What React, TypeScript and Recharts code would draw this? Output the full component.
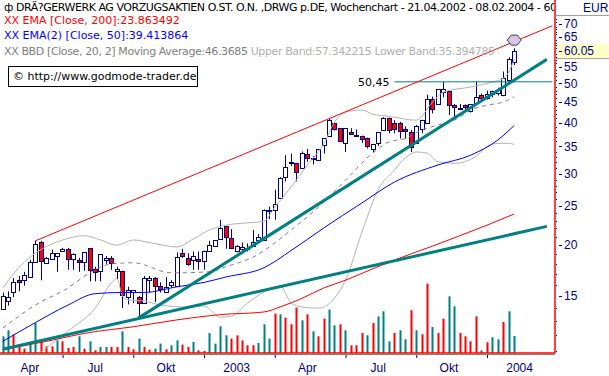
import {
  Bar,
  ComposedChart,
  Line,
  ReferenceDot,
  ReferenceLine,
  XAxis,
  YAxis,
} from "recharts";

// weekly candles, 21.04.2002 - 08.02.2004 (EUR)
const opens = [
  13.9, 14.6, 15.3, 16.4, 16.4, 16.7, 18.2, 20.4, 18.1, 18.5,
  18.8, 19.4, 19.6, 18.5, 18.4, 18.1, 19.7, 17.5, 17.3, 18.4,
  18.6, 17.3, 17.3, 14.9, 15.3, 14.9, 14.4, 16.4, 16.6, 15.9,
  15.4, 15.9, 15.9, 19.1, 18.6, 18.4, 18.5, 18.3, 19.3, 19.9,
  20.7, 22.3, 20.8, 19.3, 19.6, 19.6, 19.9, 20.6, 20.6, 24.3,
  24.4, 26.0, 29.4, 31.8, 31.9, 31.0, 33.6, 32.7, 32.4, 35.1,
  37.1, 40.0, 38.8, 35.7, 37.9, 37.2, 37.2, 36.8, 34.6, 35.8,
  38.4, 41.2, 40.0, 40.0, 38.6, 37.9, 35.7, 38.7, 40.0, 45.8,
  44.4, 47.6, 47.8, 44.2, 43.6, 44.2, 42.7, 44.9, 46.7, 46.2,
  47.0, 47.6, 46.7, 51.0, 56.5,
];
const highs = [
  15.3, 15.4, 16.6, 16.8, 17.2, 18.4, 20.5, 20.5, 18.7, 19.5,
  19.1, 19.7, 19.7, 19.1, 18.6, 19.2, 19.7, 17.7, 19.0, 18.8,
  18.8, 17.7, 17.3, 15.8, 15.5, 15.0, 16.8, 16.8, 16.7, 16.2,
  16.7, 16.4, 19.2, 19.6, 19.1, 19.3, 19.3, 19.4, 20.5, 20.6,
  23.1, 22.3, 21.9, 20.0, 20.3, 20.2, 21.8, 21.3, 24.5, 24.9,
  27.4, 29.4, 33.3, 33.6, 31.9, 34.0, 34.5, 33.1, 34.5, 36.6,
  40.9, 40.1, 38.8, 38.8, 38.8, 38.5, 37.2, 36.8, 35.5, 38.0,
  41.3, 41.2, 40.6, 40.2, 39.2, 38.4, 39.5, 40.7, 46.9, 46.4,
  48.4, 50.45, 48.0, 44.5, 44.5, 44.4, 44.5, 50.45, 47.2, 48.0,
  48.0, 48.8, 53.5, 58.0, 61.0,
];
const lows = [
  13.9, 14.2, 14.9, 15.4, 15.9, 16.7, 18.2, 16.4, 18.0, 18.5,
  17.2, 19.4, 17.4, 17.4, 17.2, 17.3, 16.3, 16.3, 16.3, 18.0,
  17.4, 16.5, 14.0, 14.3, 14.4, 13.2, 14.4, 15.3, 14.5, 15.3,
  15.3, 15.7, 15.9, 18.6, 17.8, 17.4, 17.4, 17.4, 19.3, 19.9,
  20.7, 19.6, 19.6, 19.2, 19.4, 19.3, 19.9, 20.6, 20.6, 23.2,
  23.1, 26.0, 28.7, 31.3, 28.7, 31.0, 32.1, 31.6, 32.4, 33.6,
  37.1, 38.3, 36.0, 33.9, 37.4, 37.1, 35.7, 34.6, 33.9, 35.1,
  38.4, 37.7, 37.7, 36.6, 36.6, 33.9, 35.7, 37.7, 40.0, 42.2,
  44.4, 46.2, 41.8, 41.2, 43.0, 43.0, 42.4, 44.9, 45.5, 45.6,
  46.2, 46.7, 46.5, 50.0, 55.5,
];
const closes = [
  15.0, 14.9, 16.2, 16.2, 16.9, 18.2, 20.1, 18.3, 18.6, 19.1,
  19.1, 19.6, 18.5, 19.0, 18.2, 19.2, 17.4, 17.2, 19.0, 18.6,
  18.1, 17.5, 15.1, 15.5, 15.5, 14.4, 16.6, 16.6, 15.9, 15.6,
  15.8, 16.2, 18.7, 18.8, 18.0, 18.8, 18.3, 19.4, 20.0, 20.6,
  22.0, 20.9, 19.6, 19.9, 19.8, 19.7, 20.4, 20.9, 24.4, 24.4,
  25.2, 29.2, 31.2, 32.0, 30.4, 33.8, 32.8, 32.8, 34.5, 36.6,
  40.7, 38.6, 36.0, 38.8, 37.4, 37.3, 36.5, 35.2, 35.5, 38.0,
  41.0, 38.4, 38.6, 38.3, 38.1, 34.9, 39.2, 40.7, 45.8, 43.4,
  48.4, 48.4, 44.2, 43.6, 43.6, 43.6, 44.5, 46.4, 46.0, 47.2,
  47.9, 48.3, 51.5, 57.3, 60.05,
];
// volume in thousand shares, t = teal bar, r = red bar
const volumes = [
  16.7, 22.7, 18.4, 6.7, 4.4, 11, 30, 11, 6.7, 6.7,
  12.7, 11.7, 5, 6, 16.7, 4.4, 11.7, 2.7, 6, 6,
  6, 6, 21.7, 6, 3.7, 14.4, 6, 3.4, 4.4, 9.4,
  3.7, 7.7, 12.7, 8.4, 6, 11, 2.7, 2, 20, 9.4,
  26.7, 17.7, 14.4, 17.7, 12.7, 7.7, 7.7, 10, 28.7, 14.4,
  39.4, 38.7, 35.4, 28.7, 45.4, 32.7, 38.7, 21.7, 16.7, 34.4,
  43.4, 27.7, 28.7, 22.7, 7.7, 7.7, 20, 17.7, 30, 36.7,
  41.7, 11.7, 20, 22.7, 13.7, 42.7, 22.7, 18.7, 69.4, 26,
  20, 34.4, 56.7, 46.7, 20, 16.7, 11.7, 36.7, 2.7, 10.7,
  15.7, 13.7, 31, 41.7, 17,
];
const volumeTones =
  "ttrrrttrrrtrrrtrtrttrrtrrtrrttrttrrtrrttttrrrrrtt" +
  "trtrrrtrtrrttrtrrrtrtttrttrtrrtrrttrrrrtrttrttr";

// indicator lines read at selected weeks: [week, value]
const ema200: [number, number][] = [
  [0, 11.06], [8, 11.6], [16, 12.2], [24, 12.6], [32, 13.1], [40, 13.5], [48, 13.7],
  [51, 14.1], [55, 14.8], [59, 15.7], [63, 16.4], [68, 17.5], [73, 18.6], [79, 19.9],
  [84, 21.1], [89, 22.4], [94, 23.86],
];
const ema50: [number, number][] = [
  [0, 11.6], [6, 12.9], [12, 14.25], [17, 15.2], [22, 15.3], [26, 15.3], [32, 15.8],
  [37, 16.2], [41, 16.7], [48, 17.6], [53, 19.4], [59, 22.05], [66, 25.4], [72, 28.6],
  [80, 31.5], [86, 33.3], [91, 36.3], [94, 39.41],
];
const bbUpper: [number, number][] = [
  [0, 15.7], [4, 18.2], [7, 19.5], [11, 20.6], [15, 21.1], [18, 20.6], [21, 20.0],
  [24, 20.6], [27, 20.3], [32, 19.8], [35, 20.7], [38, 21.8], [41, 22.4], [45, 22.7],
  [48, 22.9], [50, 24.8], [53, 27.8], [56, 31.5], [59, 35.5], [61, 40.2], [63, 42.5],
  [66, 43.0], [68, 42.0], [71, 41.5], [76, 40.6], [79, 45.0], [81, 47.6], [86, 49.0],
  [90, 50.4], [92, 51.5], [93, 53.3], [94, 57.34],
];
const bbMiddle: [number, number][] = [
  [0, 12.5], [6, 14.25], [12, 15.7], [16, 17.1], [20, 18.0], [24, 18.1], [31, 17.1],
  [38, 17.2], [41, 17.7], [47, 19.0], [49, 19.8], [53, 21.8], [58, 24.8], [63, 28.9],
  [68, 33.7], [71, 35.9], [74, 36.6], [77, 38.4], [80, 39.5], [83, 40.6], [86, 43.0],
  [89, 44.2], [92, 45.0], [94, 46.37],
];
const bbLower: [number, number][] = [
  [5, 10.4], [12, 12.3], [17, 14.0], [20, 16.15], [21, 16.55], [22, 15.0], [23, 14.67],
  [26, 14.58], [29, 14.25], [34, 14.09], [37, 14.17], [40, 13.3], [42, 13.37], [45, 14.42],
  [48, 15.34], [51, 15.87], [53, 14.42], [55, 14.09], [58, 14.0], [61, 14.83], [63, 16.4],
  [66, 21.5], [69, 27.4], [72, 30.6], [74, 32.8], [76, 33.9], [78, 33.7], [80, 32.1],
  [83, 31.8], [87, 33.1], [89, 35.0], [91, 35.6], [93, 35.6], [94, 35.39],
];

// hand drawn lines: [week, price] start and end
const channelTop: [number, number][] = [[6, 20.5], [101, 69.3]];
const steepTrend: [number, number][] = [[25, 13.25], [100, 57.3]];
const flatTrend: [number, number][] = [[0, 11.09], [100, 22.25]];
const resistance: [number, number][] = [[72, 50.45], [101, 50.45]];
const markerPoint: [number, number] = [94, 63.9];

const weekCount = 102;
const quarterMarks = [11, 24, 37, 50, 63, 76, 89];
const labelWeeks = [5, 17, 30, 43, 56, 69, 82, 95];
const quarterLabels = ["Apr", "Jul", "Okt", "2003", "Apr", "Jul", "Okt", "2004"];
const majorPrices = [15, 20, 25, 30, 35, 40, 45, 50, 55, 60.05, 65, 70];
const minorPrices = [
  11, 12, 13, 14, 16, 17, 18, 19, 21, 22, 23, 24, 26, 27, 28, 29, 31, 32, 33, 34,
  36, 37, 38, 39, 41, 42, 43, 44, 46, 47, 48, 49, 51, 52, 53, 54, 56, 57, 58, 59,
  61, 62, 63, 64, 66, 67, 68, 69, 71, 72,
];
const lastClose = 60.05;

const rows: any[] = [];
for (let w = 0; w < weekCount; w++) {
  const row: any = { week: w };
  if (w < closes.length) {
    row.open = opens[w];
    row.high = highs[w];
    row.low = lows[w];
    row.close = closes[w];
    row.range = [lows[w], highs[w]];
    row.volume = volumes[w];
    row.tone = volumeTones[w];
  }
  rows.push(row);
}
const addSeries = (key: string, pts: [number, number][]) => pts.forEach(([w, v]) => (rows[w][key] = v));
addSeries("ema200", ema200);
addSeries("ema50", ema50);
addSeries("bbUpper", bbUpper);
addSeries("bbMiddle", bbMiddle);
addSeries("bbLower", bbLower);

const navy = "#000080";
const teal = "#008080";

function Candle(props: any) {
  const { x, y, width, height, payload } = props;
  if (!payload || payload.open == null || x == null) return <g />;
  const { open, close, high, low } = payload;
  const top = Math.min(y, y + height);
  const span = Math.abs(height);
  const logSpan = Math.log(high) - Math.log(low) || 1;
  const at = (v: number) => top + (span * (Math.log(high) - Math.log(v))) / logSpan;
  const cx = Math.round(x + width / 2);
  const bodyTop = at(Math.max(open, close));
  const bodyBottom = at(Math.min(open, close));
  const up = close >= open;
  return (
    <g>
      <line x1={cx + 0.5} x2={cx + 0.5} y1={top} y2={top + span} stroke={navy} strokeWidth={1} />
      <rect
        x={cx - 1.5}
        y={Math.round(bodyTop) + 0.5}
        width={4}
        height={Math.max(Math.round(bodyBottom - bodyTop), 1)}
        fill={up ? "#ffffff" : "#ff0000"}
        stroke={navy}
        strokeWidth={1}
      />
    </g>
  );
}

function VolumeBar(props: any) {
  const { x, y, width, height, payload } = props;
  if (!payload || payload.volume == null || x == null) return <g />;
  const cx = Math.round(x + width / 2);
  return <rect x={cx - 0.5} y={y} width={2} height={height} fill={payload.tone === "t" ? teal : "#ff0000"} />;
}

function WeekTick(props: any) {
  const { x, y, payload } = props;
  const w = payload.value;
  const li = labelWeeks.indexOf(w);
  if (li >= 0) {
    return (
      <text x={x} y={y + 19} textAnchor="middle" fontSize={12} fontFamily="Liberation Sans" fill={navy}>
        {quarterLabels[li]}
      </text>
    );
  }
  return <line x1={x + 0.5} x2={x + 0.5} y1={y + 1} y2={y + 5} stroke={navy} />;
}

function PriceTick(props: any) {
  const { x, y, payload } = props;
  const v = payload.value;
  if (!majorPrices.includes(v)) {
    return <rect x={x + 1} y={Math.round(y)} width={1} height={1} fill={navy} />;
  }
  const isLast = v === lastClose;
  return (
    <g>
      {isLast && <rect x={x + 2} y={y - 7} width={54} height={14} fill="#ffffc8" />}
      {isLast && <line x1={x} x2={x + 56} y1={y + 7.5} y2={y + 7.5} stroke="#a0a0a0" />}
      <line x1={x + 4} x2={x + 7} y1={Math.round(y) + 0.5} y2={Math.round(y) + 0.5} stroke={navy} />
      <text x={x + 9} y={y} dy="0.35em" fontSize={12} fontFamily="Liberation Sans" fill={navy}>
        {isLast ? lastClose.toFixed(2) : v}
      </text>
    </g>
  );
}

function Marker(props: any) {
  const { cx, cy } = props;
  const pts = [
    [cx - 7, cy], [cx - 3, cy - 5], [cx + 3, cy - 5], [cx + 7, cy],
    [cx + 3, cy + 5], [cx - 3, cy + 5],
  ].map((p) => p.join(",")).join(" ");
  return <polygon points={pts} fill="#d8c6ea" stroke="#404040" strokeWidth={1} />;
}

const seg = (pts: [number, number][]) => pts.map(([x, y]) => ({ x, y }));

const lineProps = {
  xAxisId: "main",
  yAxisId: "price",
  type: "monotone" as const,
  strokeWidth: 1,
  dot: false,
  activeDot: false,
  connectNulls: true,
  isAnimationActive: false,
};

const textBase = { position: "absolute" as const, left: 4, whiteSpace: "nowrap" as const, fontFamily: "DejaVu Sans", fontSize: 11, lineHeight: "15px" };

export default function App() {
  return (
    <div style={{ position: "absolute", left: 0, top: 0, width: 609, height: 376, background: "#fff", overflow: "hidden" }}>
      <ComposedChart width={609} height={376} data={rows} margin={{ top: 0, right: 0, bottom: 0, left: 0 }}>
        <XAxis
          xAxisId="main"
          dataKey="week"
          interval={0}
          ticks={[...labelWeeks, ...quarterMarks].sort((a, b) => a - b)}
          tick={<WeekTick />}
          tickSize={0}
          tickMargin={0}
          tickLine={false}
          height={23}
          axisLine={{ stroke: "#ff0000", strokeWidth: 1.5 }}
        />
        <XAxis xAxisId="vol" dataKey="week" hide />
        <YAxis
          yAxisId="price"
          orientation="right"
          scale="log"
          domain={[10.86, 80.2]}
          allowDataOverflow
          ticks={[...minorPrices, ...majorPrices].sort((a, b) => a - b)}
          interval={0}
          tick={<PriceTick />}
          tickSize={0}
          tickMargin={0}
          tickLine={false}
          width={54}
          axisLine={{ stroke: "#ff0000", strokeWidth: 1.5 }}
        />
        <YAxis yAxisId="vol" hide domain={[0, 353]} />

        <Bar xAxisId="vol" yAxisId="vol" dataKey="volume" shape={<VolumeBar />} isAnimationActive={false} />

        <Line {...lineProps} dataKey="bbUpper" stroke="#b4b4b4" />
        <Line {...lineProps} dataKey="bbLower" stroke="#b4b4b4" />
        <Line {...lineProps} dataKey="bbMiddle" stroke="#808080" strokeDasharray="4 4" />
        <Line {...lineProps} dataKey="ema200" stroke="#ff0000" />
        <Line {...lineProps} dataKey="ema50" stroke="#0000ff" />

        <ReferenceLine xAxisId="main" yAxisId="price" segment={seg(flatTrend)} stroke={teal} strokeWidth={3} />
        <ReferenceLine xAxisId="main" yAxisId="price" segment={seg(steepTrend)} stroke={teal} strokeWidth={3} />
        <ReferenceLine
          xAxisId="main"
          yAxisId="price"
          segment={seg(resistance)}
          stroke={teal}
          strokeWidth={1}
          label={{ value: "50,45", position: "left", fill: "#000", fontSize: 11, fontFamily: "DejaVu Sans" }}
        />
        <ReferenceDot xAxisId="main" yAxisId="price" x={markerPoint[0]} y={markerPoint[1]} shape={<Marker />} />
        <ReferenceLine xAxisId="main" yAxisId="price" segment={seg(channelTop)} stroke="#ff0000" strokeWidth={1} />

        <Bar xAxisId="main" yAxisId="price" dataKey="range" shape={<Candle />} isAnimationActive={false} />
      </ComposedChart>

      <div style={{ position: "absolute", left: 0, top: 354, width: 555, borderTop: "1px solid #808080" }} />
      <div style={{ ...textBase, top: 0, width: 550, overflow: "hidden", color: "#000", letterSpacing: "-0.45px" }}>
        ф DRÄ?GERWERK AG VORZUGSAKTIEN O.ST. O.N. ,DRWG p.DE, Wochenchart - 21.04.2002 - 08.02.2004 - 60
      </div>
      <div style={{ ...textBase, top: 13, color: "#ff0000" }}>XX EMA [Close, 200]:23.863492</div>
      <div style={{ ...textBase, top: 28, color: "#0000ff" }}>XX EMA(2) [Close, 50]:39.413864</div>
      <div style={{ ...textBase, top: 44, color: "#808080", letterSpacing: "-0.38px" }}>
        XX BBD [Close, 20, 2] Moving Average:46.3685 <span style={{ color: "#b0b0b0" }}>Upper Band:57.342215 Lower Band:35.394785</span>
      </div>
      <div
        style={{
          position: "absolute", left: 8, top: 66, width: 184, height: 19, border: "1px solid #000",
          background: "#fff", fontFamily: "DejaVu Sans", fontSize: 11, lineHeight: "19px", whiteSpace: "nowrap",
          paddingLeft: 4, boxSizing: "content-box",
        }}
      >
        © http://www.godmode-trader.de
      </div>
      <div style={{ position: "absolute", left: 556, top: 15, width: 53, borderTop: "1px solid #a0a0a0" }} />
      <div style={{ position: "absolute", left: 583, top: 1, fontFamily: "Liberation Sans", fontSize: 12, color: navy }}>EUR</div>
    </div>
  );
}
